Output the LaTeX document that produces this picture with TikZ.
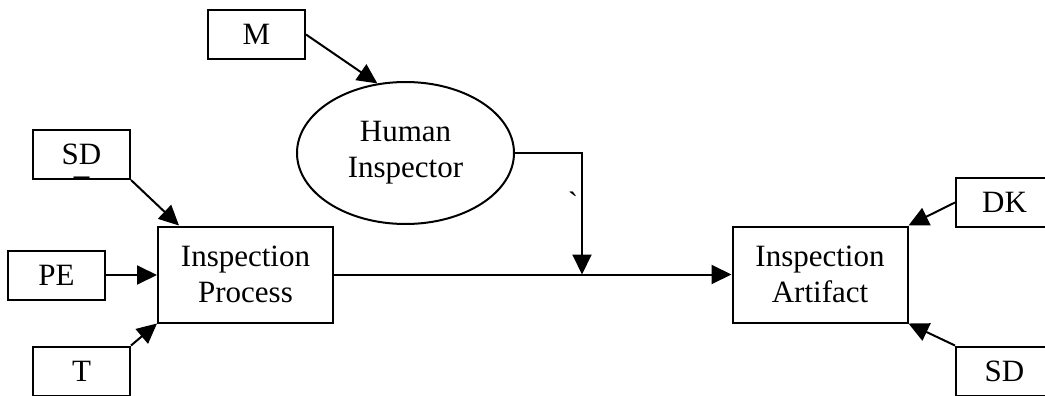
\documentclass[tikz,border=0pt]{standalone}
\usepackage{fontspec}
\setmainfont{Liberation Serif}
\newfontfamily\plainserif[Ligatures=TeXOff]{Liberation Serif}
\usetikzlibrary{arrows.meta, shapes.geometric}

\begin{document}
\begin{tikzpicture}[x=0.5pt, y=-0.5pt,
    every node/.style={font=\fontsize{15.5}{18}\selectfont, line width=1pt},
    inbox/.style={draw, minimum width=48.5pt, minimum height=24.5pt, inner sep=0pt},
    mainbox/.style={draw, minimum width=87.5pt, minimum height=48pt, align=center, inner sep=0pt},
    flow/.style={line width=1pt, -{Triangle[length=10pt, width=9.5pt]}}]
  \useasboundingbox (0,0) rectangle (1045,396);
  % input boxes
  \node[inbox] (M) at (256.5,34.5) {M};
  \node[inbox] (SDa) at (81.5,154.5) {SD};
  \node[inbox] (PE) at (56.5,275) {PE};
  \node[inbox] (T) at (81.5,371) {T};
  \node[inbox] (DK) at (1004.5,202.5) {DK};
  \node[inbox] (SDb) at (1004.5,371) {SD};
  \node[anchor=base, inner sep=0pt] (SDmark) at (81.5,174) {\_};
  % process, inspector and artifact
  \node[mainbox] (IP) at (245.5,274.5) {Inspection\\Process};
  \node[mainbox] (IA) at (820,274.5) {Inspection\\Artifact};
  \node[draw, ellipse, minimum width=108.5pt, minimum height=71pt,
        align=center, inner sep=0pt] (HI) at (405.5,153) {Human\\Inspector};
  \coordinate (join) at (582,274.5);
  \node[inner sep=0pt, font=\plainserif\fontsize{15.5}{18}\selectfont]
    (tick) at (573,203) {`};
  % connectors
  \draw[flow] (M.east) -- (HI.112);
  \draw[flow] (SDa.south east) -- ([xshift=11pt]IP.north west);
  \draw[flow] (PE.east) -- (PE.east -| IP.west);
  \draw[flow] (T.north east) -- (IP.south west);
  \draw[flow] (HI.east) -| (join);
  \draw[flow] (IP.east) -- (IA.west);
  \draw[flow] (DK.west) -- (IA.north east);
  \draw[flow] (SDb.north west) -- (IA.south east);
\end{tikzpicture}
\end{document}
